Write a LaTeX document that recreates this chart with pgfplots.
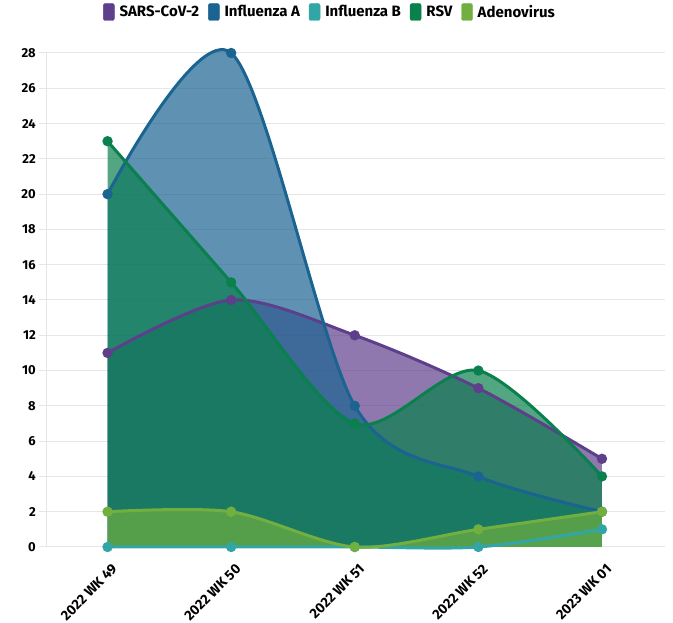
\documentclass[border=0pt]{standalone}
\usepackage{fontspec}
\setmainfont{Fira Sans}
\usepackage{pgfplots}
\pgfplotsset{compat=1.18}
\definecolor{cSars}{RGB}{94,63,140}
\definecolor{cInfA}{RGB}{27,100,145}
\definecolor{cInfB}{RGB}{50,166,166}
\definecolor{cRsv}{RGB}{9,128,77}
\definecolor{cAdeno}{RGB}{114,175,65}
\definecolor{gridc}{RGB}{230,230,230}
\pgfplotsset{
  areafill/.style={draw=none, fill=#1, fill opacity=0.7, smooth, forget plot},
  arealine/.style={#1, line width=3pt, smooth, mark=*, mark size=3.6pt, mark options={solid, fill=#1, draw=none}, forget plot},
}
\begin{document}
\begin{tikzpicture}[x=1pt,y=1pt]
\useasboundingbox (-47,-76) rectangle (626,547);
\begin{axis}[
  at={(0,0)}, anchor=south west,
  scale only axis, width=618pt, height=494pt,
  xmin=-0.49, xmax=4.51, ymin=0, ymax=28,
  clip=false,
  xtick={0,1,2,3,4},
  xticklabels={2022 WK 49,2022 WK 50,2022 WK 51,2022 WK 52,2023 WK 01},
  ytick={0,2,...,28},
  axis lines*=left,
  axis line style={draw=gridc, line width=1pt, -},
  ymajorgrids, grid style={draw=gridc, line width=1pt},
  tick align=outside,
  major tick length=8pt,
  ytick style={draw=gridc, line width=1pt},
  xtick style={draw=none},
  /pgf/number format/assume math mode=true,
  yticklabel style={font=\bfseries\fontsize{13}{13}\selectfont, inner sep=0pt, xshift=-3pt},
  xticklabel style={font=\bfseries\fontsize{14}{14}\selectfont, rotate=45, anchor=north east, inner sep=0pt, xshift=-3pt, yshift=-8pt},
  legend columns=-1,
  legend style={draw=none, fill=none, at={(0.458,1.083)}, anchor=center,
    font=\bfseries\fontsize{15}{15}\selectfont,
    /tikz/every odd column/.append style={column sep=3pt},
    /tikz/every even column/.append style={column sep=7pt}},
]
\addlegendimage{legend image code/.code={\fill[cSars, rounded corners=2pt] (0pt,-8.5pt) rectangle (11pt,8.5pt);}}
\addlegendentry{SARS-CoV-2}
\addlegendimage{legend image code/.code={\fill[cInfA, rounded corners=2pt] (0pt,-8.5pt) rectangle (11pt,8.5pt);}}
\addlegendentry{Influenza A}
\addlegendimage{legend image code/.code={\fill[cInfB, rounded corners=2pt] (0pt,-8.5pt) rectangle (11pt,8.5pt);}}
\addlegendentry{Influenza B}
\addlegendimage{legend image code/.code={\fill[cRsv, rounded corners=2pt] (0pt,-8.5pt) rectangle (11pt,8.5pt);}}
\addlegendentry{RSV}
\addlegendimage{legend image code/.code={\fill[cAdeno, rounded corners=2pt] (0pt,-8.5pt) rectangle (11pt,8.5pt);}}
\addlegendentry{Adenovirus}

% areas
\addplot[areafill=cSars] coordinates {(0,11) (1,14) (2,12) (3,9) (4,5)} \closedcycle;
\addplot[areafill=cInfA] coordinates {(0,20) (1,28) (2,8) (3,4) (4,2)} \closedcycle;
\addplot[areafill=cInfB] coordinates {(0,0) (1,0) (2,0) (3,0) (4,1)} \closedcycle;
\addplot[areafill=cRsv] coordinates {(0,23) (1,15) (2,7) (3,10) (4,4)} \closedcycle;
\addplot[areafill=cAdeno] coordinates {(0,2) (1,2) (2,0) (3,1) (4,2)} \closedcycle;
% lines
\addplot[arealine=cSars] coordinates {(0,11) (1,14) (2,12) (3,9) (4,5)};
\addplot[arealine=cInfA] coordinates {(0,20) (1,28) (2,8) (3,4) (4,2)};
\addplot[arealine=cInfB] coordinates {(0,0) (1,0) (2,0) (3,0) (4,1)};
\addplot[arealine=cRsv] coordinates {(0,23) (1,15) (2,7) (3,10) (4,4)};
\addplot[arealine=cAdeno] coordinates {(0,2) (1,2) (2,0) (3,1) (4,2)};
\end{axis}
\end{tikzpicture}
\end{document}
